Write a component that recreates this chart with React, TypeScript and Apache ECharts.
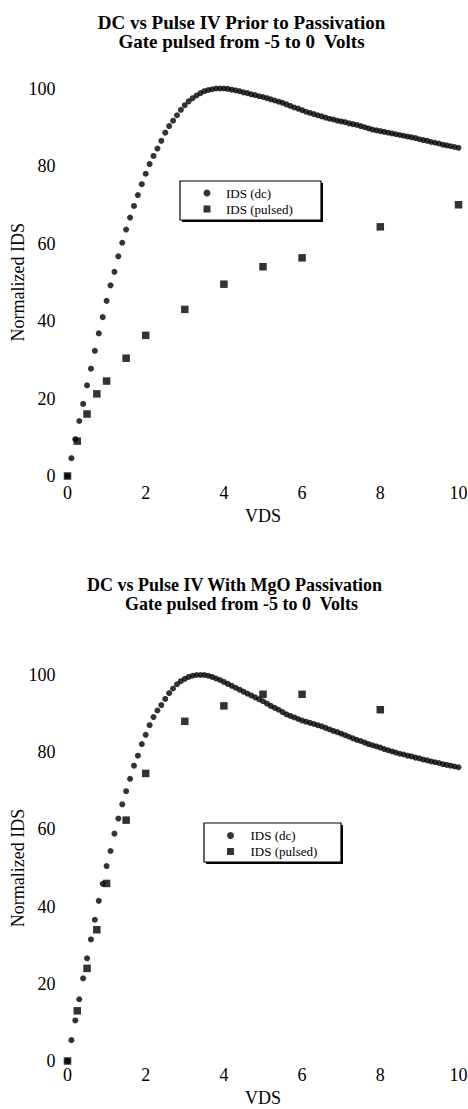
import React, { useEffect, useRef } from "react";
import * as echarts from "echarts";

const FONT = '"Liberation Serif", "Times New Roman", serif';

const vdsTicks = [0, 2, 4, 6, 8, 10];
const idsTicks = [0, 20, 40, 60, 80, 100];

const titleBefore = ["DC vs Pulse IV Prior to Passivation", "Gate pulsed from -5 to 0  Volts"];
const titleAfter = ["DC vs Pulse IV With MgO Passivation", "Gate pulsed from -5 to 0  Volts"];
const seriesNames = ["IDS (dc)", "IDS (pulsed)"];

const dcVds = [
  0, 0.1, 0.2, 0.3, 0.4, 0.5, 0.6, 0.7, 0.8, 0.9,
  1, 1.1, 1.2, 1.3, 1.4, 1.5, 1.6, 1.7, 1.8, 1.9,
  2, 2.1, 2.2, 2.3, 2.4, 2.5, 2.6, 2.7, 2.8, 2.9,
  3, 3.1, 3.2, 3.3, 3.4, 3.5, 3.6, 3.7, 3.8, 3.9,
  4, 4.1, 4.2, 4.3, 4.4, 4.5, 4.6, 4.7, 4.8, 4.9,
  5, 5.1, 5.2, 5.3, 5.4, 5.5, 5.6, 5.7, 5.8, 5.9,
  6, 6.1, 6.2, 6.3, 6.4, 6.5, 6.6, 6.7, 6.8, 6.9,
  7, 7.1, 7.2, 7.3, 7.4, 7.5, 7.6, 7.7, 7.8, 7.9,
  8, 8.1, 8.2, 8.3, 8.4, 8.5, 8.6, 8.7, 8.8, 8.9,
  9, 9.1, 9.2, 9.3, 9.4, 9.5, 9.6, 9.7, 9.8, 9.9,
  10,
];

const dcBefore = [
  0, 4.6, 9.5, 14.2, 18.6, 23.4, 27.7, 32.3, 36.8, 41.0,
  45.2, 49.2, 52.7, 56.7, 60.2, 63.6, 66.7, 69.7, 72.5, 75.3,
  78.0, 80.5, 82.6, 84.5, 86.5, 88.6, 90.3, 91.7, 93.1, 94.5,
  95.7, 96.7, 97.5, 98.2, 98.8, 99.3, 99.6, 99.8, 100.0, 100.0,
  100.0, 99.9, 99.7, 99.5, 99.3, 99.0, 98.8, 98.5, 98.3, 98.0,
  97.8, 97.5, 97.2, 96.9, 96.6, 96.3, 95.9, 95.5, 95.1, 94.8,
  94.4, 94.0, 93.7, 93.4, 93.1, 92.8, 92.5, 92.2, 92.0, 91.7,
  91.5, 91.3, 91.0, 90.8, 90.6, 90.3, 90.0, 89.7, 89.4, 89.2,
  89.0, 88.8, 88.6, 88.4, 88.2, 88.0, 87.8, 87.6, 87.4, 87.2,
  86.9, 86.7, 86.5, 86.2, 86.0, 85.8, 85.5, 85.3, 85.1, 84.9,
  84.7,
];

const dcAfter = [
  0, 5.4, 10.5, 16.0, 21.4, 26.6, 31.5, 36.6, 41.5, 45.9,
  50.5, 54.4, 58.9, 62.8, 66.5, 69.9, 73.1, 76.5, 79.1, 82.1,
  84.5, 87.0, 89.1, 90.8, 92.2, 93.8, 95.3, 96.5, 97.6, 98.4,
  99.0, 99.5, 99.8, 100.0, 100.0, 100.0, 99.8, 99.5, 99.1, 98.7,
  98.2, 97.7, 97.2, 96.7, 96.2, 95.7, 95.2, 94.7, 94.2, 93.7,
  93.2, 92.6, 92.0, 91.5, 91.0, 90.4, 89.8, 89.4, 89.0, 88.6,
  88.2, 87.9, 87.6, 87.3, 87.0, 86.7, 86.3, 85.9, 85.5, 85.2,
  84.8, 84.4, 84.0, 83.6, 83.2, 82.9, 82.5, 82.1, 81.8, 81.5,
  81.2, 80.8, 80.5, 80.2, 79.9, 79.6, 79.4, 79.1, 78.9, 78.6,
  78.4, 78.1, 77.9, 77.6, 77.4, 77.2, 76.9, 76.7, 76.5, 76.3,
  76.1,
];

const pulsedVdsBefore = [0, 0.25, 0.5, 0.75, 1, 1.5, 2, 3, 4, 5, 6, 8, 10];
const pulsedBefore = [0, 9, 16, 21.2, 24.5, 30.4, 36.3, 43, 49.5, 54, 56.3, 64.3, 70];

const pulsedVdsAfter = [0, 0.25, 0.5, 0.75, 1, 1.5, 2, 3, 4, 5, 6, 8];
const pulsedAfter = [0, 13, 24, 34, 46, 62.4, 74.5, 88, 92, 95, 95, 91];

const pair = (xs: number[], ys: number[]) => xs.map((x, i) => [x, ys[i]]);

const SQUARE = "path://M0,0L10,0L10,10L0,10Z";

export default function App() {
  const ref = useRef<HTMLDivElement>(null);

  useEffect(() => {
    if (!ref.current) return;
    const chart = echarts.init(ref.current, null, { renderer: "svg" });

    const grids = [
      { left: 67.5, top: 88.5, width: 391, height: 387.5, containLabel: false, outerBoundsMode: "none" },
      { left: 67.5, top: 675, width: 391, height: 386, containLabel: false, outerBoundsMode: "none" },
    ];

    const xAxis = grids.map((_, i) => ({
      type: "value",
      gridIndex: i,
      min: vdsTicks[0],
      max: vdsTicks[vdsTicks.length - 1],
      interval: vdsTicks[1] - vdsTicks[0],
      name: "VDS",
      nameLocation: "middle",
      nameGap: i === 0 ? 31 : 28,
      nameMoveOverlap: false,
      nameTextStyle: { fontFamily: FONT, fontSize: 18, color: "#000" },
      axisLine: { show: false },
      axisTick: { show: false },
      splitLine: { show: false },
      axisLabel: { fontFamily: FONT, fontSize: 18, color: "#000", margin: i === 0 ? 8 : 5 },
    }));

    const yAxis = grids.map((_, i) => ({
      type: "value",
      gridIndex: i,
      min: idsTicks[0],
      max: idsTicks[idsTicks.length - 1],
      interval: idsTicks[1] - idsTicks[0],
      name: "Normalized IDS",
      nameLocation: "middle",
      nameGap: 41,
      nameMoveOverlap: false,
      nameTextStyle: { fontFamily: FONT, fontSize: 18, color: "#000" },
      axisLine: { show: false },
      axisTick: { show: false },
      splitLine: { show: false },
      axisLabel: { fontFamily: FONT, fontSize: 18, color: "#000", margin: 12 },
    }));

    const dcStyle = { color: "#000" };
    const series = [
      {
        name: seriesNames[0], type: "scatter", xAxisIndex: 0, yAxisIndex: 0,
        data: pair(dcVds, dcBefore), symbol: "circle", symbolSize: 6, itemStyle: dcStyle, clip: false,
      },
      {
        name: seriesNames[1], type: "scatter", xAxisIndex: 0, yAxisIndex: 0,
        data: pair(pulsedVdsBefore, pulsedBefore), symbol: "rect", symbolSize: 7.5, itemStyle: dcStyle, clip: false, z: 3,
      },
      {
        name: seriesNames[0], type: "scatter", xAxisIndex: 1, yAxisIndex: 1,
        data: pair(dcVds, dcAfter), symbol: "circle", symbolSize: 6, itemStyle: dcStyle, clip: false,
      },
      {
        name: seriesNames[1], type: "scatter", xAxisIndex: 1, yAxisIndex: 1,
        data: pair(pulsedVdsAfter, pulsedAfter), symbol: "rect", symbolSize: 7.5, itemStyle: dcStyle, clip: false, z: 3,
      },
    ];

    const legendData = [
      { name: seriesNames[0], icon: "circle" },
      { name: seriesNames[1], icon: SQUARE },
    ];
    const legendBase = {
      orient: "vertical",
      padding: 0,
      itemGap: 3,
      itemHeight: 7,
      selectedMode: false,
      data: legendData,
      z: 10,
      textStyle: { fontFamily: FONT, fontSize: 13, color: "#000" },
    };
    const legend = [
      { ...legendBase, left: 203.5, top: 186.5, itemWidth: 28 },
      { ...legendBase, left: 227, top: 829, itemWidth: 30 },
    ];

    const titleText = (text: string, x: number, y: number, size: number) => ({
      type: "text",
      x,
      y,
      style: {
        text,
        font: `bold ${size}px ${FONT}`,
        fill: "#000",
        textAlign: "center",
        textVerticalAlign: "middle",
        align: "center",
        verticalAlign: "middle",
      },
    });

    const legendBox = (x: number, y: number, w: number, h: number) => [
      { type: "rect", z: 1, shape: { x: x + 2, y: y + 2, width: w, height: h }, style: { fill: "#000" } },
      { type: "rect", z: 2, shape: { x, y, width: w, height: h }, style: { fill: "#fff", stroke: "#000", lineWidth: 1.2 } },
    ];

    const graphic = [
      titleText(titleBefore[0], 241.5, 22, 19),
      titleText(titleBefore[1], 241.5, 41, 19),
      titleText(titleAfter[0], 234.5, 585, 18),
      titleText(titleAfter[1], 241.5, 603.5, 18),
      ...legendBox(180, 181, 141, 39),
      ...legendBox(204, 823, 137, 39),
    ];

    chart.setOption({
      animation: false,
      backgroundColor: "#fff",
      textStyle: { fontFamily: FONT },
      grid: grids,
      xAxis,
      yAxis,
      series,
      legend,
      graphic,
    } as any);

    return () => chart.dispose();
  }, []);

  return (
    <div
      ref={ref}
      style={{ position: "absolute", left: 0, top: 0, width: 468, height: 1109, background: "#fff" }}
    />
  );
}
